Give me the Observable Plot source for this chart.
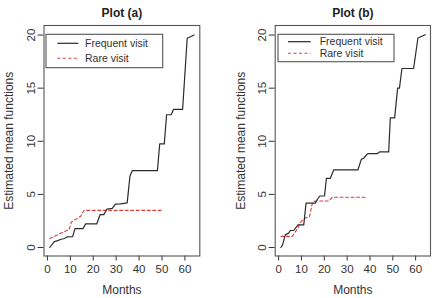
<!DOCTYPE html>
<html>
<head>
<meta charset="utf-8">
<script src="https://cdn.jsdelivr.net/npm/d3@7"></script>
<script src="https://cdn.jsdelivr.net/npm/@observablehq/plot@0.6"></script>
<style>
  html, body { margin: 0; padding: 0; background: #fff; }
  #wrap { position: relative; width: 437px; height: 298px; overflow: hidden; }
  .panel { position: absolute; top: 0; }
</style>
</head>
<body>
<div id="wrap"></div>
<script>
// Tick values
const xTicks = [0, 10, 20, 30, 40, 50, 60];
const yTicks = [0, 5, 10, 15, 20];

// Plot (a): estimated mean functions
const freqAMonth = [1, 3, 4.5, 6, 7.5, 8.5, 11, 12, 15.5, 16.7, 21.5, 23, 24.6, 26, 28.3, 29.7, 32, 34.8, 36, 37, 48, 49, 51, 52, 54, 55, 59, 61, 64];
const freqAValue = [0, 0.55, 0.65, 0.78, 0.85, 1.0, 1.03, 1.78, 1.78, 2.22, 2.22, 3.1, 3.1, 3.62, 3.68, 4.08, 4.1, 4.2, 6.7, 7.23, 7.23, 9.75, 9.75, 12.5, 12.5, 13.0, 13.0, 19.7, 20.0];
const rareAMonth = [1, 4, 7, 9.5, 10.5, 14.5, 16, 50];
const rareAValue = [0.85, 1.15, 1.45, 1.7, 2.4, 2.95, 3.5, 3.5];

// Plot (b): estimated mean functions
const freqBMonth = [1, 1.75, 2.9, 4.4, 5.1, 6.6, 8.5, 11, 12, 16, 17, 18, 20.1, 20.9, 22.6, 24.1, 34.7, 36.2, 37.2, 39, 43.1, 44.2, 48.2, 48.9, 50.8, 52.1, 52.9, 54, 59.1, 61, 64.2];
const freqBValue = [0, 0.25, 1.19, 1.35, 1.6, 1.6, 2.13, 2.13, 4.17, 4.17, 4.54, 4.85, 4.85, 6.5, 6.5, 7.3, 7.3, 8.3, 8.4, 8.83, 8.83, 9.0, 9.0, 12.2, 12.2, 15.0, 15.0, 16.85, 16.85, 19.72, 20.03];
const rareBMonth = [1, 6, 8, 10, 12, 13.5, 14.8, 16, 22, 23.5, 38];
const rareBValue = [1.05, 1.05, 1.7, 2.5, 2.8, 2.9, 4.2, 4.38, 4.38, 4.73, 4.73];

const seriesNames = ["Frequent visit", "Rare visit"];
const titles = ["Plot (a)", "Plot (b)"];

const font = "'Liberation Sans', Arial, Helvetica, sans-serif";
const ink = "#333";
const redLine = "#e03c3c";

function rows(months, values) {
  return months.map((m, i) => ({month: m, value: values[i]}));
}

function panel({title, freq, rare, width, marginLeft, marginRight, legend}) {
  const marginTop = 25, marginBottom = 42.5, height = 298;
  const chart = Plot.plot({
    width, height, marginLeft, marginRight, marginTop, marginBottom,
    style: {fontFamily: font, fontSize: "11px", color: ink, background: "white", overflow: "visible"},
    x: {domain: [-1.5, 66.5]},
    y: {domain: [-0.8, 20.9]},
    marks: [
      Plot.axisX({ticks: xTicks, tickSize: 5, tickPadding: 4, label: null, fontSize: 11.5}),
      Plot.axisY({ticks: yTicks, tickSize: 6, tickPadding: 3, tickRotate: -90, label: null, fontSize: 11.5}),
      Plot.line(rare, {x: "month", y: "value", stroke: redLine, strokeWidth: 1.1, strokeDasharray: "3,2.5"}),
      Plot.line(freq, {x: "month", y: "value", stroke: "#2b2b2b", strokeWidth: 1.2}),
      Plot.frame({stroke: "#555", strokeWidth: 1.1}),
      Plot.text([title], {frameAnchor: "top", dy: -12.3, text: d => d, fontWeight: "bold", fontSize: 12, lineAnchor: "middle", fill: "#222"}),
      Plot.text(["Months"], {frameAnchor: "bottom", dy: 34.5, text: d => d, fontSize: 12, lineAnchor: "middle", fill: ink}),
      Plot.text(["Estimated mean functions"], {frameAnchor: "left", dx: -34.5, rotate: -90, text: d => d, fontSize: 12, textAnchor: "middle", lineAnchor: "middle", fill: ink})
    ]
  });

  // Legend box in the upper-left corner of the frame
  const svg = d3.select(chart);
  const g = svg.append("g")
    .attr("font-family", font).attr("font-size", 10.5)
    .attr("fill", ink).attr("text-anchor", "start");
  const L = legend;
  g.append("rect")
    .attr("x", marginLeft + L.dx).attr("y", marginTop + L.dy)
    .attr("width", L.w).attr("height", L.h)
    .attr("fill", "white").attr("stroke", "#555").attr("stroke-width", 1.1);
  const styles = [
    {stroke: "#2b2b2b", dash: null, width: 1.2},
    {stroke: redLine, dash: "3,2.5", width: 1.1}
  ];
  seriesNames.forEach((name, i) => {
    const y = marginTop + L.row0 + i * L.rowGap;
    const line = g.append("line")
      .attr("x1", marginLeft + L.lineX0).attr("x2", marginLeft + L.lineX1)
      .attr("y1", y).attr("y2", y)
      .attr("stroke", styles[i].stroke).attr("stroke-width", styles[i].width);
    if (styles[i].dash) line.attr("stroke-dasharray", styles[i].dash);
    g.append("text")
      .attr("x", marginLeft + L.textX).attr("y", y).attr("dy", "0.35em")
      .attr("text-anchor", "start")
      .text(name);
  });
  return chart;
}

const wrap = document.getElementById("wrap");

const a = panel({
  title: titles[0],
  freq: rows(freqAMonth, freqAValue),
  rare: rows(rareAMonth, rareAValue),
  width: 218, marginLeft: 43.5, marginRight: 18.7,
  legend: {dx: 2.5, dy: 9.3, w: 116.7, h: 33.4, row0: 18.3, rowGap: 15, lineX0: 13.8, lineX1: 34.8, textX: 41.5}
});
const b = panel({
  title: titles[1],
  freq: rows(freqBMonth, freqBValue),
  rare: rows(rareBMonth, rareBValue),
  width: 219, marginLeft: 56.7, marginRight: 7,
  legend: {dx: 3.3, dy: 9.3, w: 116, h: 27.4, row0: 16.7, rowGap: 11.6, lineX0: 13.3, lineX1: 36, textX: 45}
});

const da = document.createElement("div");
da.className = "panel"; da.style.left = "0px"; da.appendChild(a);
const db = document.createElement("div");
db.className = "panel"; db.style.left = "218px"; db.appendChild(b);
wrap.appendChild(da);
wrap.appendChild(db);
</script>
</body>
</html>
